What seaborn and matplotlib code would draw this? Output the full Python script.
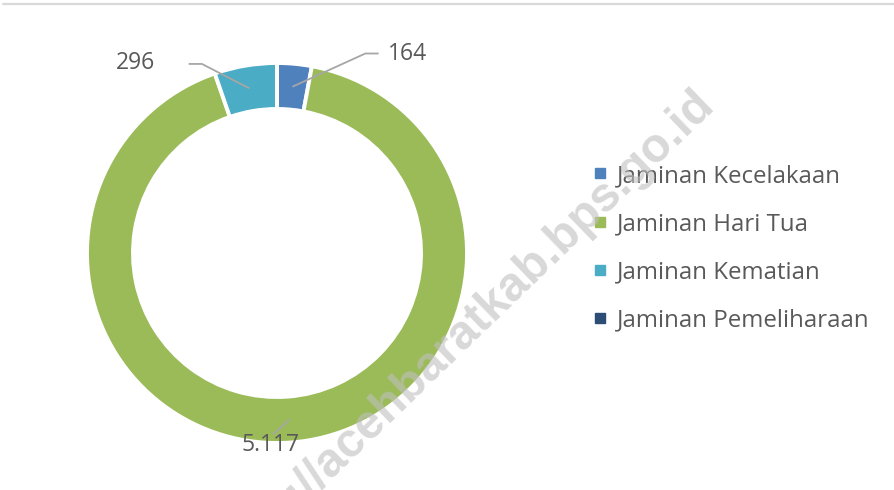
import matplotlib
matplotlib.use("Agg")
import matplotlib.pyplot as plt
import seaborn as sns
import numpy as np
from matplotlib.lines import Line2D

# Data
categories = ["Jaminan Kecelakaan", "Jaminan Hari Tua", "Jaminan Kematian", "Jaminan Pemeliharaan"]
values = [164, 5117, 296, 0]
value_labels = ["164", "5.117", "296", ""]
colors = ["#4F81BD", "#9BBB59", "#4BACC6", "#2C4D75"]

sns.set_theme(style="white")
plt.rcParams["font.family"] = ["Open Sans", "DejaVu Sans"]

TEXT = "#595959"
LEADER = "#A6A6A6"

W, H = 894, 490
fig = plt.figure(figsize=(W / 100, H / 100), dpi=100)

# donut axes (square, in pixels)
R_PX = 190
cx, cy = 277, 253
ax = fig.add_axes([(cx - R_PX) / W, (H - cy - R_PX) / H, 2 * R_PX / W, 2 * R_PX / H])
ring = 0.242
wedges, _ = ax.pie(values, colors=colors, startangle=90, counterclock=False, radius=1.0,
                   wedgeprops=dict(width=ring, edgecolor="white", linewidth=2.8))
ax.set_xlim(-1, 1)
ax.set_ylim(-1, 1)
ax.set_aspect("equal")
ax.axis("off")

# label layout: text position, alignment and leader elbow points (axes data units)
layout = {
    "164": dict(text=(0.585, 1.045), ha="left", path=[(0.465, 1.05), (0.535, 1.05)]),
    "296": dict(text=(-0.64, 1.0), ha="right", path=[(-0.395, 0.995), (-0.465, 0.995)]),
    "5.117": dict(text=(-0.035, -1.01), ha="center", path=[(-0.02, -0.955)]),
}

r_mid = 1 - ring / 2
for w, lab in zip(wedges, value_labels):
    if not lab:
        continue
    ang = np.deg2rad((w.theta1 + w.theta2) / 2)
    start = (r_mid * np.cos(ang), r_mid * np.sin(ang))
    spec = layout[lab]
    pts = [start] + spec["path"]
    ax.plot([p[0] for p in pts], [p[1] for p in pts], color=LEADER, lw=1.3,
            clip_on=False, solid_capstyle="butt")
    ax.text(spec["text"][0], spec["text"][1], lab, ha=spec["ha"], va="center",
            fontsize=16.5, color=TEXT, clip_on=False)

# legend
handles = [Line2D([0], [0], marker="s", linestyle="none", markersize=7.5,
                  markerfacecolor=c, markeredgecolor=c) for c in colors]
fig.legend(handles, categories, loc="center left", bbox_to_anchor=(0.6495, 0.494),
           frameon=False, fontsize=17.3, labelcolor=TEXT, handlelength=0.6,
           handletextpad=0.42, labelspacing=1.0, borderpad=0)

# top rule
fig.add_artist(Line2D([0.003, 1.0], [0.992, 0.992], color="#D9D9D9", lw=1.6))

# site watermark
fig.text(0.801, 0.784, "https://acehbaratkab.bps.go.id", rotation=44,
         rotation_mode="anchor", ha="right", va="baseline", fontsize=34.5,
         fontweight="bold", family="Liberation Sans", color="#BFBFBF",
         alpha=0.6, zorder=10)

fig.savefig("out.png", dpi=100, facecolor="white")
